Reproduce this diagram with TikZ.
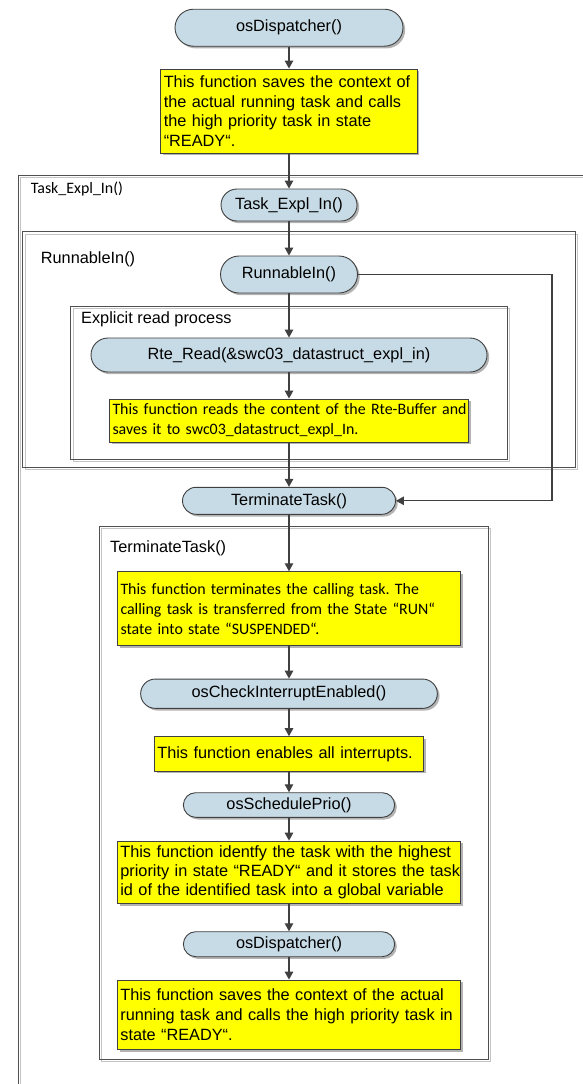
\documentclass[tikz,border=0pt]{standalone}
\usepackage{fontspec}
\setmainfont{Liberation Sans}
\newfontfamily\carlito{Carlito}
\usetikzlibrary{arrows.meta,shapes.misc,shadows}
\frenchspacing

\definecolor{pillblue}{HTML}{C7DBE6}
\definecolor{edgegray}{HTML}{404040}
\definecolor{framegray}{HTML}{505050}
\definecolor{shadegray}{HTML}{C4C4C4}
\definecolor{noteyellow}{HTML}{FFFF00}

\newcommand{\arialtext}{\fontsize{16.3}{19.6}\selectfont}
\newcommand{\calibritext}{\carlito\fontsize{15.9}{20}\selectfont}
% one unbreakable line of note text
\newcommand{\oneline}[1]{\mbox{#1}}

\tikzset{
  flow/.style={draw=edgegray,line width=1.3pt,-{Triangle[length=8pt,width=8.5pt]}},
  pill/.style={rounded rectangle,draw=edgegray,line width=0.9pt,fill=pillblue,
    inner sep=0pt,font=\arialtext,
    drop shadow={shadow xshift=2.2pt,shadow yshift=-2.2pt,fill=gray,opacity=0.6}},
  note/.style={rectangle,draw=edgegray,line width=0.9pt,fill=noteyellow,
    inner sep=3pt,align=left,font=\arialtext,
    drop shadow={shadow xshift=2.2pt,shadow yshift=-2.2pt,fill=gray,opacity=0.6}},
  framebox/.style={draw=framegray,line width=1pt},
  frameshade/.style={draw=shadegray,line width=1pt},
  framelabel/.style={anchor=west,inner sep=0pt,font=\arialtext},
}

\begin{document}
\begin{tikzpicture}[x=1pt,y=-1pt]
\useasboundingbox (0,0) rectangle (583,1084);
\clip (0,0) rectangle (583,1084);

% ---- nested frames (light offset outline first, dark outline on top)
\draw[frameshade] (20.7,177.4) rectangle (610,1110);
\draw[framebox]   (18.3,175)   rectangle (610,1110);
\draw[frameshade] (25.1,234.1) rectangle (577.6,469.8);
\draw[framebox]   (22.7,231.7) rectangle (575.2,467.3);
\draw[frameshade] (73.0,308.4) rectangle (509.7,461.6);
\draw[framebox]   (70.6,306)   rectangle (507.3,459.3);
\draw[frameshade] (101.7,528.4) rectangle (490.4,1061.7);
\draw[framebox]   (99.3,526)   rectangle (488,1059.3);

% ---- frame titles
\node[framelabel,font=\calibritext] (lblTask) at (30.7,189) {Task\_Expl\_In()};
\node[framelabel] (lblRun)  at (40.7,259) {RunnableIn()};
\node[framelabel] (lblRead) at (81,319)   {Explicit read process};
\node[framelabel] (lblTerm) at (110,548)  {TerminateTask()};

% ---- flow nodes
\node[pill,minimum width=228pt,minimum height=37pt] (p1) at (289,27.7) {osDispatcher()};
\node[note,text width=250.5pt,minimum height=84pt] (n1) at (289,111)
  {\oneline{This function saves the context of}\\\oneline{the actual running task and calls}\\\oneline{the high priority task in state}\\\oneline{“READY“.}};
\node[pill,minimum width=136pt,minimum height=32pt] (p2) at (289,205) {Task\_Expl\_In()};
\node[pill,minimum width=137pt,minimum height=37pt] (p3) at (289,274.5) {RunnableIn()};
\node[pill,minimum width=396pt,minimum height=34pt] (p4) at (289,355) {Rte\_Read(\&swc03\_datastruct\_expl\_in)};
\node[note,font=\calibritext,inner sep=3pt,text width=353pt,minimum height=43pt] (n3) at (289,420.5)
  {\oneline{This function reads the content of the Rte-Buffer and}\\\oneline{saves it to swc03\_datastruct\_expl\_In.}};
\node[pill,minimum width=213pt,minimum height=27pt] (p5) at (289,500.8) {TerminateTask()};
\node[note,font=\calibritext,text width=337pt,minimum height=74pt] (n4) at (289,608.7)
  {\oneline{This function terminates the calling task. The}\\\oneline{calling task is transferred from the State “RUN“}\\\oneline{state into state “SUSPENDED“.}};
\node[pill,minimum width=296.7pt,minimum height=29.3pt] (p6) at (289,693.7) {osCheckInterruptEnabled()};
\node[note,text width=263.4pt,minimum height=34.3pt] (n5) at (289,753.8)
  {\oneline{This function enables all interrupts.}};
\node[pill,minimum width=211.3pt,minimum height=24.6pt] (p7) at (289,805) {osSchedulePrio()};
\node[note,text width=337.3pt,minimum height=62.3pt,font=\fontsize{16.3}{19.4}\selectfont] (n6) at (289,872.2)
  {\oneline{This function identfy the task with the highest}\\\oneline{priority in state “READY“ and it stores the task}\\\oneline{id of the identified task into a global variable}};
\node[pill,minimum width=211.3pt,minimum height=25pt] (p8) at (289,944.2) {osDispatcher()};
\node[note,text width=337.3pt,minimum height=69.3pt] (n7) at (289,1014.7)
  {\oneline{This function saves the context of the actual}\\\oneline{running task and calls the high priority task in}\\\oneline{state “READY“.}};

% ---- connectors
\coordinate (bypass) at (552,0);
\draw[flow] (p1.south) -- (n1.north);
\draw[flow] (n1.south) -- (p2.north);
\draw[flow] (p2.south) -- (p3.north);
\draw[flow] (p3.south) -- (p4.north);
\draw[flow] (p4.south) -- (n3.north);
\draw[flow] (n3.south) -- (p5.north);
\draw[flow] (p3.east) -| (bypass |- p5.east) -- (p5.east);
\draw[flow] (p5.south) -- (n4.north);
\draw[flow] (n4.south) -- (p6.north);
\draw[flow] (p6.south) -- (n5.north);
\draw[flow] (n5.south) -- (p7.north);
\draw[flow] (p7.south) -- (n6.north);
\draw[flow] (n6.south) -- (p8.north);
\draw[flow] (p8.south) -- (n7.north);
\end{tikzpicture}
\end{document}
